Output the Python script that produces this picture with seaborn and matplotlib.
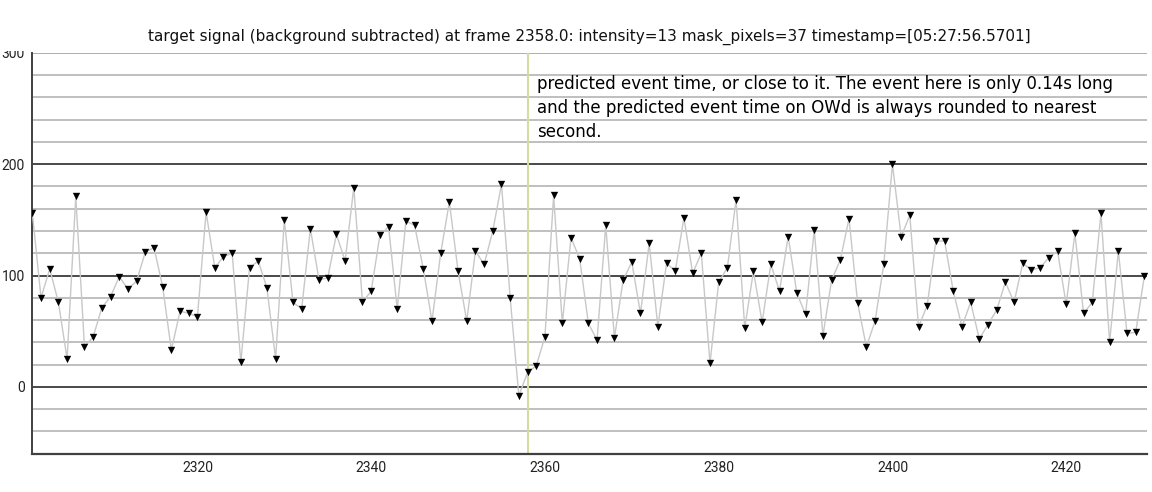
import numpy as np
import matplotlib
matplotlib.use('Agg')
import matplotlib.pyplot as plt
from matplotlib.patches import Rectangle
import seaborn as sns
import pandas as pd

frames = np.arange(2301, 2430)
intensity = [
    156, 80, 106, 76, 25, 171, 36, 45, 71, 81,
    99, 88, 95, 121, 125, 90, 33, 68, 66, 63,
    157, 107, 117, 120, 22, 107, 113, 89, 25, 150,
    76, 70, 142, 96, 98, 137, 113, 179, 76, 86,
    136, 144, 70, 149, 145, 106, 59, 120, 166, 104,
    59, 122, 110, 140, 182, 80, -8, 13, 19, 45,
    172, 57, 134, 115, 57, 42, 145, 44, 96, 112,
    66, 129, 54, 111, 104, 152, 102, 120, 21, 94,
    107, 168, 53, 104, 58, 110, 86, 135, 84, 65,
    141, 46, 96, 114, 151, 75, 36, 59, 110, 200,
    135, 154, 54, 73, 131, 131, 86, 54, 76, 43,
    56, 69, 94, 76, 111, 105, 107, 116, 122, 74,
    138, 66, 76, 156, 40, 122, 48, 49, 100,
]
event_frame = 2358
x_ticks = [2320, 2340, 2360, 2380, 2400, 2420]
y_ticks = [0, 100, 200, 300]

title = ('target signal (background subtracted) at frame 2358.0: intensity=13 '
         'mask_pixels=37 timestamp=[05:27:56.5701]')
note = ('predicted event time, or close to it. The event here is only 0.14s long\n'
        'and the predicted event time on OWd is always rounded to nearest\n'
        'second.')

df = pd.DataFrame({'frame': frames, 'intensity': intensity})

sns.set_theme(style='white')
plt.rcParams['font.family'] = ['DejaVu Sans']
tick_font = ['Liberation Sans Narrow', 'Roboto', 'DejaVu Sans']

fig = plt.figure(figsize=(11.52, 4.92), dpi=100)
ax = fig.add_axes([32 / 1152, 1 - 453.7 / 492, 1115 / 1152, (453.7 - 52.8) / 492])

sns.lineplot(data=df, x='frame', y='intensity', ax=ax, color='#c8c8c8', lw=1, zorder=3)
sns.scatterplot(data=df, x='frame', y='intensity', ax=ax, marker='v', color='black',
                s=28, linewidth=0, zorder=4)

ax.axvline(event_frame, color='#d4dca2', lw=1.5, zorder=2)

ax.set_xlim(2300.96, 2429.3)
ax.set_ylim(-60, 300)
ax.set_xticks(x_ticks)
ax.set_xticks(np.arange(2310, 2430, 10), minor=True)
ax.set_yticks(y_ticks)
ax.set_yticks(np.arange(-40, 300, 20), minor=True)

ax.grid(which='major', axis='y', color='#3a3a3a', lw=1.3, zorder=1)
ax.grid(which='minor', axis='y', color='#b4b4b4', lw=1.2, zorder=1)
ax.grid(False, axis='x', which='both')
ax.yaxis.get_major_ticks()[-1].gridline.set_color('#a8a8a8')

ax.tick_params(axis='x', which='major', direction='in', length=4, width=1,
               color='#404040', labelsize=10, labelcolor='#222222', pad=5)
ax.tick_params(axis='x', which='minor', direction='in', length=2, width=0.8, color='#909090')
ax.tick_params(axis='y', which='both', length=0, labelsize=10, labelcolor='#222222', pad=5)
for lab in ax.get_xticklabels() + ax.get_yticklabels():
    lab.set_family(tick_font)

for side in ['top', 'right']:
    ax.spines[side].set_visible(False)
ax.spines['left'].set_color('#404040')
ax.spines['left'].set_linewidth(1.4)
ax.spines['bottom'].set_color('#404040')
ax.spines['bottom'].set_linewidth(1.6)

ax.set_xlabel('')
ax.set_ylabel('')
ax.set_title(title, fontsize=11, color='#111111', pad=9)

ax.text(2359.07, 280, note, fontsize=12, color='black', ha='left', va='top',
        linespacing=1.42, zorder=5)

# the top of the "300" label is hidden under the title bar in the original
fig.patches.append(Rectangle((0, 1 - 51 / 492), 28 / 1152, 51 / 492,
                             transform=fig.transFigure, facecolor='white',
                             edgecolor='none', zorder=10))

fig.savefig('out.png', dpi=100)
